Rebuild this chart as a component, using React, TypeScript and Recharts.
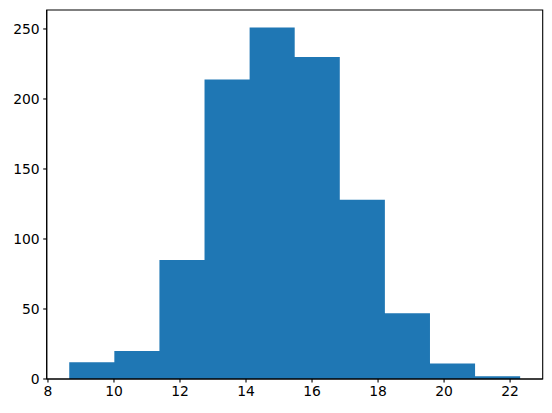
import React from "react";
import { ComposedChart, Area, XAxis, YAxis, ReferenceArea } from "recharts";

const binEdges = [8.645, 10.011, 11.377, 12.743, 14.109, 15.475, 16.841, 18.207, 19.573, 20.939, 22.305];
const counts = [12, 20, 85, 214, 251, 230, 128, 47, 11, 2];
const xTicks = [8, 10, 12, 14, 16, 18, 20, 22];
const yTicks = [0, 50, 100, 150, 200, 250];

const data = binEdges.map((e, i) => ({ x: e, count: counts[Math.min(i, counts.length - 1)] }));

const FONT = { fontFamily: "DejaVu Sans", fontSize: 13.9, fill: "#000" };
const xDomain = [7.962, 22.988];
const yDomain = [0, 263.55];

export default function App() {
  return (
    <div style={{ position: "absolute", left: 0, top: 0, background: "#fff" }}>
      <ComposedChart
        width={552}
        height={413}
        data={data}
        margin={{ top: 10, right: 9.3, bottom: 0, left: 0 }}
      >
        <XAxis
          dataKey="x"
          type="number"
          domain={xDomain}
          ticks={xTicks}
          allowDataOverflow
          height={34}
          tickSize={3.5}
          tickMargin={3.5}
          tick={FONT}
          stroke="#000"
          axisLine={{ stroke: "#000", strokeWidth: 1.1 }}
          tickLine={{ stroke: "#000", strokeWidth: 1.1 }}
        />
        <YAxis
          type="number"
          domain={yDomain}
          ticks={yTicks}
          allowDataOverflow
          width={46.7}
          tickSize={3.5}
          tickMargin={3.5}
          tick={FONT}
          stroke="#000"
          axisLine={{ stroke: "#000", strokeWidth: 1.1 }}
          tickLine={{ stroke: "#000", strokeWidth: 1.1 }}
        />
        <Area
          type="stepAfter"
          dataKey="count"
          baseValue={0}
          fill="#1f77b4"
          fillOpacity={1}
          stroke="none"
          isAnimationActive={false}
          dot={false}
          activeDot={false}
        />
        <ReferenceArea
          x1={xDomain[0]}
          x2={xDomain[1]}
          y1={yDomain[0]}
          y2={yDomain[1]}
          fill="none"
          fillOpacity={0}
          stroke="#000"
          strokeWidth={1.1}
          ifOverflow="visible"
        />
      </ComposedChart>
    </div>
  );
}
